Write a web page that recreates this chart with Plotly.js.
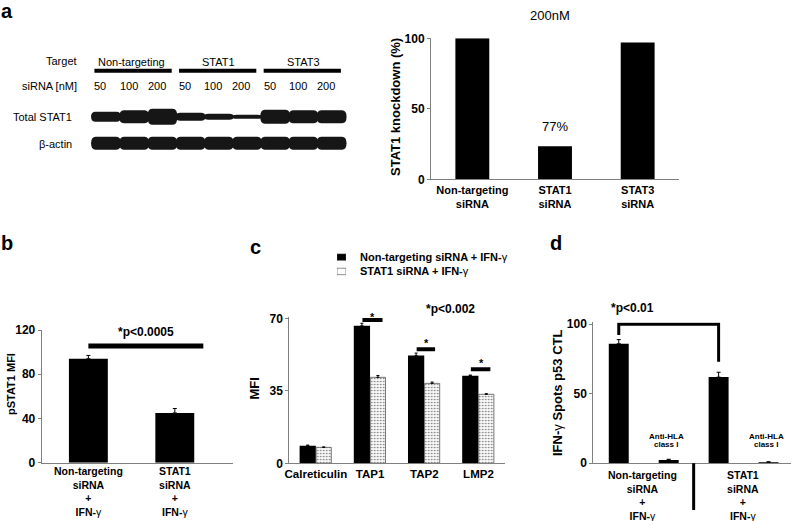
<!DOCTYPE html>
<html><head><meta charset="utf-8">
<script src="https://cdn.plot.ly/plotly-3.0.1.min.js"></script>
<style>html,body{margin:0;padding:0;background:#fff}</style>
</head><body><div id="chart" style="width:793px;height:521px"></div>
<script>
// ---------- data ----------
// Panel a: western blot
const blotTargets = ['Non-targeting', 'STAT1', 'STAT3'];
const blotDoses = ['50', '100', '200', '50', '100', '200', '50', '100', '200'];
const stat1BandThickness = [10, 13, 16, 8, 6, 4, 14, 13, 13];
const actinBandThickness = [13, 13, 13, 13, 13, 13, 13, 13, 13];
const blotRowLabels = ['Total STAT1', 'β-actin'];
// Panel a: knockdown bars
const knockCategories = ['Non-targeting<br>siRNA', 'STAT1<br>siRNA', 'STAT3<br>siRNA'];
const knockValues = [100, 23.5, 97];
const knockLabel = '77%';
// Panel b
const pstatLabelLines = [['Non-targeting', 'siRNA', '+', 'IFN-γ'], ['STAT1', 'siRNA', '+', 'IFN-γ']];
const pstatValues = [94, 45];
const pstatErrors = [3, 4];
const pstatTicks = [0, 40, 80, 120];
// Panel c
const cCategories = ['Calreticulin', 'TAP1', 'TAP2', 'LMP2'];
const cSeriesNames = ['Non-targeting siRNA + IFN-γ', 'STAT1 siRNA + IFN-γ'];
const cNonTargeting = [8.5, 66.4, 52, 42.3];
const cNonTargetingErr = [0.3, 1.2, 1.2, 0.3];
const cStat1 = [7.7, 41.5, 38.6, 33.3];
const cStat1Err = [0.2, 0.9, 0.6, 0.3];
const cTicks = [0, 35, 70];
// Panel d
const dGroupLines = [['Non-targeting', 'siRNA', '+', 'IFN-γ'], ['STAT1', 'siRNA', '+', 'IFN-γ']];
const dBlockLabel = ['Anti-HLA', 'class I'];
const dValues = [86, 2.4, 62, 0.8];
const dErrors = [3, 0.5, 3.5, 0.3];
const dTicks = [0, 50, 100];

// ---------- helpers ----------
const W = 793, H = 521;
const FONT = 'Liberation Sans, Arial, Helvetica, sans-serif';
const PX = x => x / W, PY = y => 1 - y / H;
const bold = s => '<b>' + s.replace('γ', '</b>γ<b>') + '</b>';
function ann(text, x, y, o) {
  return Object.assign({text, x: PX(x), y: PY(y), xref: 'paper', yref: 'paper', showarrow: false,
    xanchor: 'center', yanchor: 'middle', font: {family: FONT, size: 12, color: '#000'}}, o || {});
}
const axisBase = {showgrid: false, zeroline: false, showline: true, linecolor: '#808080', linewidth: 1,
  fixedrange: true, tickfont: {family: FONT, size: 12, color: '#000', weight: 'bold'}};
function xAxis(l, r, range, anchor, extra) {
  return Object.assign({}, axisBase, {domain: [l / W, r / W], range, anchor, ticks: ''}, extra || {});
}
function yAxis(bottom, top, range, anchor, tickvals, extra) {
  return Object.assign({}, axisBase, {domain: [1 - bottom / H, 1 - top / H], range, anchor,
    ticks: 'outside', ticklen: 3, tickcolor: '#808080', tickwidth: 1, tickmode: 'array', tickvals}, extra || {});
}

// ---------- traces ----------
const traces = [];
traces.push({type: 'bar', x: knockValues.map((_, i) => i), y: knockValues, xaxis: 'x', yaxis: 'y',
  width: 0.41, marker: {color: '#000'}, hoverinfo: 'skip'});
traces.push({type: 'bar', x: pstatValues.map((_, i) => i), y: pstatValues, xaxis: 'x2', yaxis: 'y2',
  width: 0.45, marker: {color: '#000'}, hoverinfo: 'skip',
  error_y: {type: 'data', array: pstatErrors, arrayminus: pstatErrors.map(() => 0), symmetric: false, color: '#000', thickness: 1, width: 2}});
const dotted = {shape: '.', size: 3, solidity: 0.22, fgcolor: '#6a6a6a', bgcolor: '#fafafa', fillmode: 'replace'};
traces.push({type: 'bar', name: cSeriesNames[0], x: cCategories.map((_, i) => i), y: cNonTargeting, xaxis: 'x3', yaxis: 'y3',
  width: 0.3, offset: -0.3, marker: {color: '#000'}, hoverinfo: 'skip',
  error_y: {type: 'data', array: cNonTargetingErr, arrayminus: cNonTargeting.map(() => 0), symmetric: false, color: '#000', thickness: 1, width: 1.5}});
traces.push({type: 'bar', name: cSeriesNames[1], x: cCategories.map((_, i) => i), y: cStat1, xaxis: 'x3', yaxis: 'y3',
  width: 0.28, offset: 0.005, marker: {color: '#fafafa', pattern: dotted, line: {color: '#555', width: 0.8}}, hoverinfo: 'skip',
  error_y: {type: 'data', array: cStat1Err, arrayminus: cStat1.map(() => 0), symmetric: false, color: '#000', thickness: 1, width: 1.5}});
traces.push({type: 'bar', x: dValues.map((_, i) => i), y: dValues, xaxis: 'x4', yaxis: 'y4',
  width: 0.4, marker: {color: '#000'}, hoverinfo: 'skip',
  error_y: {type: 'data', array: dErrors, arrayminus: dValues.map(() => 0), symmetric: false, color: '#000', thickness: 1, width: 2}});
// blot canvas (empty trace to create the subplot)
traces.push({type: 'scatter', x: [], y: [], xaxis: 'x5', yaxis: 'y5', hoverinfo: 'skip'});
// legend swatches for panel c
traces.push({type: 'bar', orientation: 'h', y: [0, 1], x: [1, 1], xaxis: 'x6', yaxis: 'y6', width: 0.45, hoverinfo: 'skip',
  marker: {color: ['#000', '#fafafa'], line: {color: '#444', width: 0.6},
    pattern: {shape: ['', '.'], size: 3, solidity: 0.22, fgcolor: '#6a6a6a', bgcolor: '#fafafa', fillmode: 'replace'}}});

// ---------- shapes ----------
const shapes = [];
function band(cx, cy, hw, ht) {
  const r = 0.16;
  return `M ${cx - hw + r},${cy - ht} L ${cx + hw - r},${cy - ht} Q ${cx + hw},${cy - ht} ${cx + hw},${cy} ` +
    `Q ${cx + hw},${cy + ht} ${cx + hw - r},${cy + ht} L ${cx - hw + r},${cy + ht} Q ${cx - hw},${cy + ht} ${cx - hw},${cy} ` +
    `Q ${cx - hw},${cy - ht} ${cx - hw + r},${cy - ht} Z`;
}
stat1BandThickness.forEach((t, i) => shapes.push({type: 'path', xref: 'x5', yref: 'y5', path: band(i, 116.7, 0.53, t / 2), fillcolor: '#161616', line: {width: 0}}));
actinBandThickness.forEach((t, i) => shapes.push({type: 'path', xref: 'x5', yref: 'y5', path: band(i, 143.3, 0.53, t / 2), fillcolor: '#161616', line: {width: 0}}));
blotTargets.forEach((_, g) => shapes.push({type: 'rect', xref: 'x5', yref: 'y5', x0: 3 * g - 0.41, x1: 3 * g + 2.33, y0: 68.7, y1: 72.7, fillcolor: '#000', line: {width: 0}}));
// panel b significance line
shapes.push({type: 'line', xref: 'x2', yref: 'y2', x0: 0, x1: 1.33, y0: 105.5, y1: 105.5, line: {color: '#000', width: 5}});
// panel c significance lines
[[0.86, 1.23, 69.2], [1.86, 2.2, 55], [2.86, 3.22, 45.4]].forEach(s =>
  shapes.push({type: 'line', xref: 'x3', yref: 'y3', x0: s[0], x1: s[1], y0: s[2], y1: s[2], line: {color: '#000', width: 4}}));
// panel d bracket and divider
shapes.push({type: 'path', xref: 'x4', yref: 'y4', path: 'M 0,92.3 L 0,100 L 2,100 L 2,73.1', line: {color: '#000', width: 3}});
shapes.push({type: 'line', xref: 'x4', yref: 'paper', x0: 1.5, x1: 1.5, y0: PY(463.3), y1: PY(510), line: {color: '#000', width: 3}});

// ---------- annotations ----------
const anns = [];
// panel letters
[['a', 7, 11], ['b', 7, 243], ['c', 255, 247], ['d', 556, 243]].forEach(p =>
  anns.push(ann('<b>' + p[0] + '</b>', p[1], p[2], {font: {family: FONT, size: 20, color: '#000'}})));
// blot texts
const regular = {family: FONT, size: 11, color: '#000'};
anns.push(ann('Target', 79, 61, {xanchor: 'right', font: regular}));
anns.push(ann('siRNA [nM]', 79, 86, {xanchor: 'right', font: regular}));
anns.push(ann(blotRowLabels[0], 73.5, 117.5, {xanchor: 'right', font: regular}));
anns.push(ann(blotRowLabels[1], 73.5, 143.5, {xanchor: 'right', font: regular}));
blotTargets.forEach((t, g) => anns.push({text: t, x: 3 * g + 1 - (g === 0 ? 0.1 : 0), y: PY(61.5), xref: 'x5', yref: 'paper', showarrow: false, font: regular, xanchor: 'center', yanchor: 'middle'}));
blotDoses.forEach((d, i) => anns.push({text: d, x: i - 0.2, y: PY(86), xref: 'x5', yref: 'paper', showarrow: false, font: regular, xanchor: 'center', yanchor: 'middle'}));
// panel a bar chart texts
anns.push(ann('200nM', 550, 15, {font: {family: FONT, size: 13, color: '#000'}}));
anns.push({text: knockLabel, x: 1, y: 37.8, xref: 'x', yref: 'y', showarrow: false, font: {family: FONT, size: 13, color: '#000'}});
anns.push(ann('<b>STAT1 knockdown (%)</b>', 395, 107, {textangle: -90, font: {family: FONT, size: 13, color: '#000'}}));
// panel b texts
anns.push(ann('<b>pSTAT1 MFI</b>', 11, 384, {textangle: -90, font: {family: FONT, size: 11, color: '#000'}}));
anns.push({text: '<b>*p<0.0005</b>', x: 0.67, y: PY(332), xref: 'x2', yref: 'paper', showarrow: false, font: {family: FONT, size: 12, color: '#000'}, yanchor: 'middle'});
pstatLabelLines.forEach((lines, i) =>
  anns.push({text: lines.map(bold).join('<br>'), x: i, y: PY(491), xref: 'x2', yref: 'paper', showarrow: false, font: {family: FONT, size: 10.5, color: '#000'}, yanchor: 'middle'}));
// panel c texts
anns.push(ann('<b>MFI</b>', 253.5, 389, {textangle: -90, font: {family: FONT, size: 13, color: '#000'}}));
anns.push(ann(cSeriesNames.map(bold).join('<br>'), 358, 264.3, {xanchor: 'left', align: 'left', font: {family: FONT, size: 11, color: '#000'}}));
anns.push(ann('<b>*p<0.002</b>', 450, 308.5));
[[1.05, 317], [2.05, 343], [3.05, 363]].forEach(s =>
  anns.push({text: '<b>*</b>', x: s[0], y: PY(s[1]), xref: 'x3', yref: 'paper', showarrow: false, font: {family: FONT, size: 11, color: '#000'}, yanchor: 'middle'}));
// panel d texts
anns.push(ann(bold('IFN-γ Spots p53 CTL'), 557, 393, {textangle: -90, font: {family: FONT, size: 13, color: '#000'}}));
anns.push(ann('<b>*p<0.01</b>', 632, 307.5));
[1, 3].forEach(i => dBlockLabel.forEach((s, k) =>
  anns.push({text: '<b>' + s + '</b>', x: i - 0.05, y: PY(k === 0 ? 436.5 : 444), xref: 'x4', yref: 'paper', showarrow: false, font: {family: FONT, size: 8, color: '#000'}, yanchor: 'middle'})));
dGroupLines.forEach((lines, i) =>
  anns.push({text: lines.map(bold).join('<br>'), x: 2 * i + 0.48, y: PY(495), xref: 'x4', yref: 'paper', showarrow: false, font: {family: FONT, size: 10.5, color: '#000'}, yanchor: 'middle'}));

// ---------- layout ----------
const layout = {
  width: W, height: H, margin: {l: 0, r: 0, t: 0, b: 0}, paper_bgcolor: '#fff', plot_bgcolor: 'rgba(0,0,0,0)',
  showlegend: false, barmode: 'overlay', font: {family: FONT, color: '#000'},
  xaxis: xAxis(431, 679, [-0.5, 2.5], 'y', {tickmode: 'array', tickvals: knockValues.map((_, i) => i), ticktext: knockCategories,
    tickfont: {family: FONT, size: 11, color: '#000', weight: 'bold'}}),
  yaxis: yAxis(179.3, 38.3, [0, 100], 'x', [0, 50, 100]),
  xaxis2: xAxis(41.7, 232.7, [-0.54, 1.67], 'y2', {showticklabels: false}),
  yaxis2: yAxis(462.7, 330, [0, 120], 'x2', pstatTicks),
  xaxis3: xAxis(289.3, 505, [-0.49, 3.49], 'y3', {tickmode: 'array', tickvals: cCategories.map((_, i) => i), ticktext: cCategories,
    tickfont: {family: FONT, size: 11.5, color: '#000', weight: 'bold'}}),
  yaxis3: yAxis(463.3, 463.3 - 145 * 70.6 / 70, [0, 70.6], 'x3', cTicks),
  xaxis4: xAxis(593.3, 791, [-0.51, 3.45], 'y4', {showticklabels: false}),
  yaxis4: yAxis(463.3, 463.3 - 139 * 1.015, [0, 101.5], 'x4', dTicks),
  xaxis5: {domain: [0, 380 / W], range: [-3.759, 9.716], visible: false, anchor: 'y5', fixedrange: true},
  yaxis5: {domain: [0, 1], range: [521, 0], visible: false, anchor: 'x5', fixedrange: true},
  xaxis6: {domain: [337 / W, 346 / W], range: [0, 1], visible: false, anchor: 'y6', fixedrange: true},
  yaxis6: {domain: [PY(278.6), PY(250)], range: [1.5, -0.5], visible: false, anchor: 'x6', fixedrange: true},
  shapes: shapes, annotations: anns
};
Plotly.newPlot('chart', traces, layout, {staticPlot: true, displayModeBar: false});
</script></body></html>
